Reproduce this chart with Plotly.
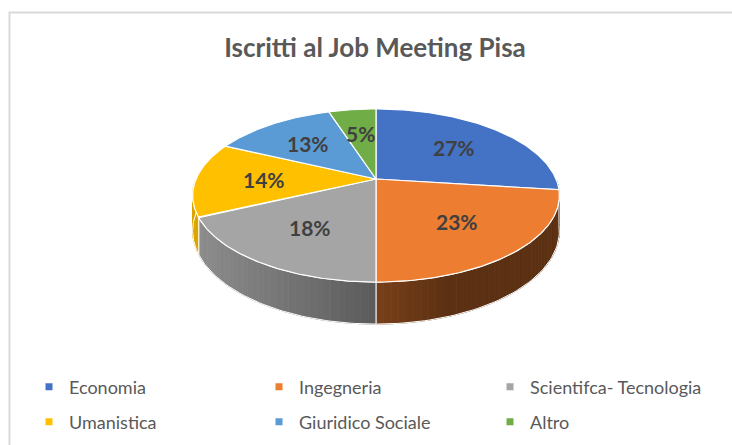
import numpy as np
import plotly.graph_objects as go

# ---- data ----
categories = ["Economia", "Ingegneria", "Scientifca- Tecnologia",
              "Umanistica", "Giuridico Sociale", "Altro"]
shares = [27, 23, 18, 14, 13, 5]
colors = ["#4472C4", "#ED7D31", "#A5A5A5", "#FFC000", "#5B9BD5", "#70AD47"]
title_text = "Iscritti al Job Meeting Pisa"

# ---- geometry (pixel space, perspective-tilted disc) ----
W, H = 732, 445
CX, CY = 376, 179
RX, RY = 180, 83.4
K = 0.1908
DEPTH = 34
FONT = "Lato, Open Sans, sans-serif"


def proj(theta_deg, r=1.0):
    t = np.radians(theta_deg)
    u = r * np.sin(t)
    v = r * np.cos(t)
    d = 1 + K * v
    return CX + RX * u / d, CY - RY * v / d


def depth_at(theta_deg):
    return DEPTH / (1 + K * np.cos(np.radians(theta_deg)))


def hex_rgb(h):
    h = h.lstrip("#")
    return tuple(int(h[i:i + 2], 16) for i in (0, 2, 4))


def shade(hexc, f):
    r, g, b = hex_rgb(hexc)
    return "rgb(%d,%d,%d)" % (round(r * f), round(g * f), round(b * f))


def side_factor(x):
    if x <= CX:
        return 0.86 - 0.31 * (x - 195) / (CX - 195)
    return 0.51 - 0.12 * min(1.0, (x - CX) / 70.0)


total = float(sum(shares))
angles = np.concatenate([[0], np.cumsum(shares) / total * 360.0])

fig = go.Figure()

# ---- sides (visible near half) ----
for i, c in enumerate(colors):
    a0, a1 = max(angles[i], 90.0), min(angles[i + 1], 270.0)
    if a1 <= a0:
        continue
    steps = np.linspace(a0, a1, max(2, int((a1 - a0) / 2) + 2))
    for s0, s1 in zip(steps[:-1], steps[1:]):
        x0, y0 = proj(s0)
        x1, y1 = proj(s1)
        xm = (x0 + x1) / 2
        col = shade(c, side_factor(xm))
        fig.add_trace(go.Scatter(
            x=[x0, x1, x1, x0, x0],
            y=[y0, y1, y1 + depth_at(s1), y0 + depth_at(s0), y0],
            mode="lines", fill="toself", fillcolor=col,
            line=dict(color=col, width=0.8),
            hoverinfo="skip", showlegend=False))
    arc = np.linspace(a0, a1, 60)
    xs, ys = proj(arc)
    xb = xs[::-1]
    yb = (ys + depth_at(arc))[::-1]
    fig.add_trace(go.Scatter(
        x=list(xs) + list(xb) + [xs[0]],
        y=list(ys) + list(yb) + [ys[0]],
        mode="lines", line=dict(color="white", width=1),
        hoverinfo="skip", showlegend=False))

# ---- top faces ----
for i, (cat, c) in enumerate(zip(categories, colors)):
    arc = np.linspace(angles[i], angles[i + 1], 120)
    xs, ys = proj(arc)
    fig.add_trace(go.Scatter(
        x=[CX] + list(xs) + [CX], y=[CY] + list(ys) + [CY],
        mode="lines", fill="toself", fillcolor=c,
        line=dict(color="white", width=1.2),
        name=cat, hoverinfo="name", showlegend=False))

# ---- data labels ----
for i, v in enumerate(shares):
    mid = (angles[i] + angles[i + 1]) / 2
    lx, ly = proj(mid, 0.62)
    fig.add_annotation(x=lx, y=ly, text="<b>%d%%</b>" % round(v / total * 100),
                       showarrow=False,
                       font=dict(family=FONT, size=21, color="#404040"))

# ---- legend: one legend box per entry (3 columns x 2 rows) ----
col_x = [29, 259, 490]
row_y = [387, 422]
legend_layout = {}
for i, (cat, c) in enumerate(zip(categories, colors)):
    key = "legend" if i == 0 else "legend%d" % (i + 1)
    fig.add_trace(go.Scatter(
        x=[None], y=[None], mode="markers",
        marker=dict(symbol="square", size=7, color=c),
        name=cat, legend=key))
    legend_layout[key] = dict(
        x=col_x[i % 3] / W, y=1 - row_y[i // 3] / H,
        xanchor="left", yanchor="middle", orientation="h",
        font=dict(family=FONT, size=18, color="#595959"),
        bgcolor="rgba(0,0,0,0)", itemwidth=30)

fig.update_layout(
    width=W, height=H,
    margin=dict(l=0, r=0, t=0, b=0),
    paper_bgcolor="white", plot_bgcolor="white",
    xaxis=dict(range=[0, W], visible=False, fixedrange=True),
    yaxis=dict(range=[H, 0], visible=False, fixedrange=True),
    title=dict(text="<b>%s</b>" % title_text, x=375 / W, xanchor="center",
               y=1 - 48 / H, yanchor="middle",
               font=dict(family=FONT, size=26, color="#595959")),
    shapes=[dict(type="rect", xref="x", yref="y", x0=9.5, x1=W + 10,
                 y0=12.5, y1=H + 10, line=dict(color="#D9D9D9", width=2),
                 fillcolor="rgba(0,0,0,0)", layer="below")],
    **legend_layout,
)

fig.write_html("out.html",
               config={"displayModeBar": False},
               post_script="document.body.style.margin='0';"
                           "document.body.style.overflow='hidden';")
